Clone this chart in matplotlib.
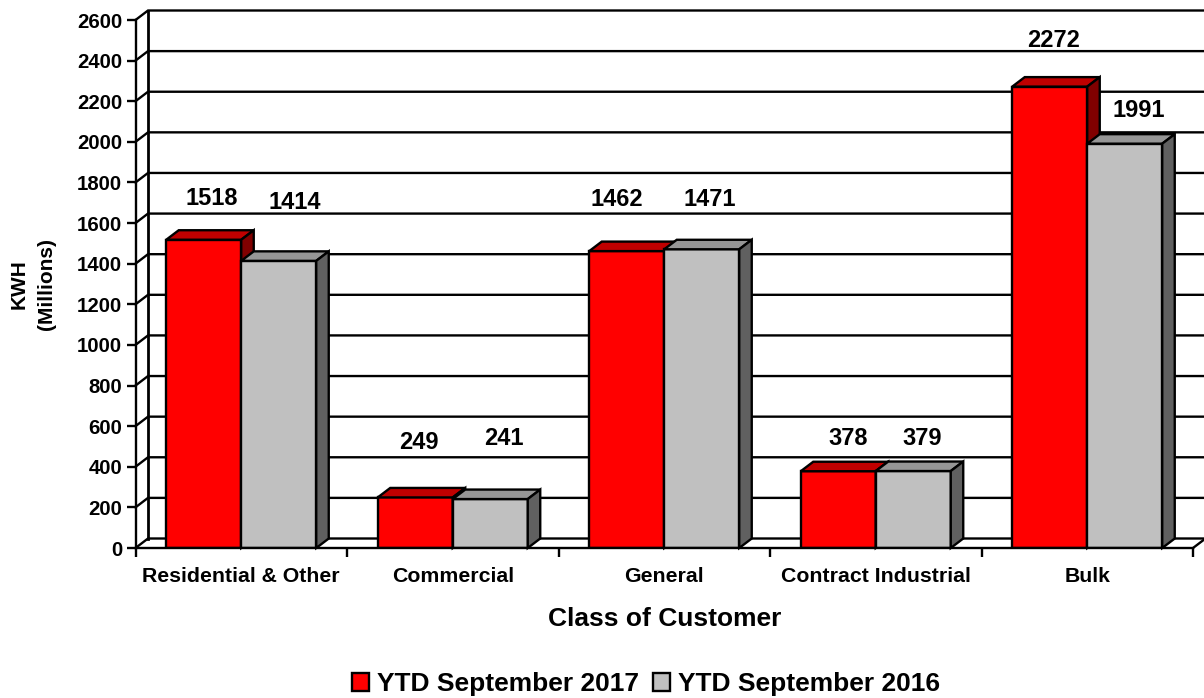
import numpy as np
import matplotlib
matplotlib.use("Agg")
import matplotlib.pyplot as plt
from matplotlib.patches import Patch, Polygon

plt.rcParams['font.family'] = ['Liberation Sans', 'DejaVu Sans']
plt.rcParams['font.weight'] = 'bold'

categories = ["Residential & Other", "Commercial", "General", "Contract Industrial", "Bulk"]
ytd_2017 = [1518, 249, 1462, 378, 2272]
ytd_2016 = [1414, 241, 1471, 379, 1991]
y_ticks = list(range(0, 2601, 200))
series_names = ["YTD September 2017", "YTD September 2016"]

# label offsets from the top of each bar, pixels
offsets_2017 = [(8, 41), (4, 55), (-10, 52), (10, 33), (4, 46)]
offsets_2016 = [(16, 58), (14, 61), (8, 50), (9, 33), (14, 33)]

W, H = 1204, 698
LW = 1.7
BAR = 75 / 211.5   # bar width in category units
DX = 12.5 / 211.5  # 3d depth in data units
DY = 9.5 / (528 / 2600)


def draw_bar(ax, x0, value, front, top, side):
    x1 = x0 + BAR
    ax.bar(x0, value, BAR, align='edge', color=front, edgecolor='black', linewidth=LW, zorder=3)
    ax.add_patch(Polygon([(x0, value), (x0 + DX, value + DY), (x1 + DX, value + DY), (x1, value)],
                         facecolor=top, edgecolor='black', linewidth=LW, zorder=3, clip_on=False))
    ax.add_patch(Polygon([(x1, 0), (x1 + DX, DY), (x1 + DX, value + DY), (x1, value)],
                         facecolor=side, edgecolor='black', linewidth=LW, zorder=3, clip_on=False))


fig = plt.figure(figsize=(W / 100, H / 100), dpi=100)
ax = fig.add_axes([135.5 / W, 1 - 548 / H, (1193 - 135.5) / W, 528 / H])
ax.set_xlim(0, 5)
ax.set_ylim(0, 2600)

for side_name in ['top', 'right']:
    ax.spines[side_name].set_visible(False)
for side_name in ['left', 'bottom']:
    ax.spines[side_name].set_linewidth(LW)
    ax.spines[side_name].set_zorder(4)

# back wall and floor
for v in y_ticks:
    ax.plot([0, DX, 5 + DX], [v, v + DY, v + DY], color='black', lw=LW, zorder=1,
            clip_on=False, solid_joinstyle='miter')
ax.plot([DX, DX], [DY, 2600 + DY], color='black', lw=LW + 0.3, zorder=1, clip_on=False)
ax.plot([5, 5 + DX], [0, DY], color='black', lw=LW, zorder=1, clip_on=False)

centers = np.arange(len(categories)) + 0.5
for i, c in enumerate(centers):
    draw_bar(ax, c - BAR, ytd_2017[i], '#FF0000', '#C00000', '#800000')
    draw_bar(ax, c, ytd_2016[i], '#C0C0C0', '#969696', '#606060')
    ax.annotate(str(ytd_2017[i]), (c - BAR / 2, ytd_2017[i]), xytext=offsets_2017[i],
                textcoords='offset pixels', ha='center', va='center', fontsize=17, zorder=5)
    ax.annotate(str(ytd_2016[i]), (c + BAR / 2, ytd_2016[i]), xytext=offsets_2016[i],
                textcoords='offset pixels', ha='center', va='center', fontsize=17, zorder=5)

ax.set_yticks(y_ticks)
ax.set_xticks(np.arange(len(categories) + 1))
ax.set_xticklabels([])
ax.set_xticks(centers, categories, minor=True)
ax.tick_params(axis='both', which='major', length=6.5, width=LW, labelsize=14.7, pad=3)
ax.tick_params(axis='x', which='minor', length=0, labelsize=15.3, pad=14)

ax.set_xlabel("Class of Customer", fontsize=19, fontweight='bold', labelpad=15)
ax.set_ylabel("KWH\n(Millions)", fontsize=15, fontweight='bold', labelpad=15.5, linespacing=1.55)

handles = [Patch(facecolor='#FF0000', edgecolor='black', linewidth=LW),
           Patch(facecolor='#C0C0C0', edgecolor='black', linewidth=LW)]
fig.legend(handles, series_names, loc='center', bbox_to_anchor=(646 / W, 1 - 684 / H), ncol=2,
           frameon=False, fontsize=19, handlelength=0.65, handleheight=0.65,
           handletextpad=0.3, columnspacing=0.55, borderpad=0)

fig.savefig("out.png", dpi=100)
